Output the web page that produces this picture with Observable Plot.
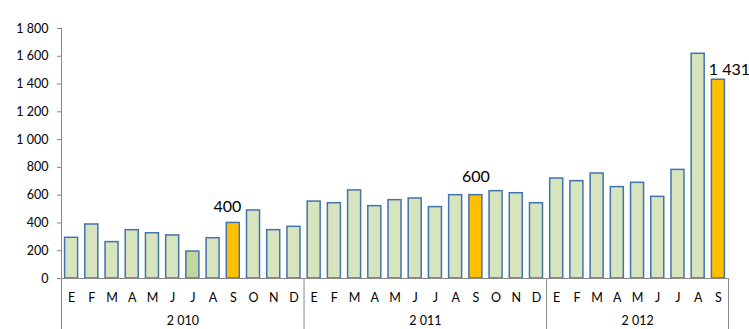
<!DOCTYPE html>
<html><head><meta charset="utf-8">
<script src="https://cdn.jsdelivr.net/npm/d3@7"></script>
<script src="https://cdn.jsdelivr.net/npm/@observablehq/plot@0.6"></script>
<style>html,body{margin:0;padding:0;overflow:hidden;background:#fff}</style>
</head><body><div id="chart"></div>
<script>
const months = ["E","F","M","A","M","J","J","A","S","O","N","D",
                "E","F","M","A","M","J","J","A","S","O","N","D",
                "E","F","M","A","M","J","J","A","S"];
const values = [293,389,262,348,326,310,194,290,400,490,348,372,
                554,542,634,521,564,576,514,600,600,629,614,542,
                720,701,756,658,689,588,782,1618,1431];
const years = ["2 010","2 011","2 012"];
const yearStarts = [0,12,24];
const yearEnds = [12,24,33];
const highlighted = [8,20,32];
const highlightLabels = ["400","600","1 431"];
const darker = [6];
const yTicks = [0,200,400,600,800,1000,1200,1400,1600,1800];

const data = values.map((v,i)=>({i, v, m: months[i],
  kind: highlighted.includes(i) ? "hi" : darker.includes(i) ? "dark" : "base"}));
const fills = {base:"#D7E4BD", dark:"#C3D69B", hi:"#FFC000"};
const fmt = d => d3.format(",")(d).replace(/,/g," ");
const lab = k => [{i: highlighted[k], v: values[highlighted[k]], t: highlightLabels[k]}];

const plot = Plot.plot({
  width: 749, height: 329,
  marginTop: 28, marginBottom: 51, marginLeft: 61, marginRight: 21,
  style: {fontFamily: "Lato, sans-serif", fontSize: "12.5px", color: "#000", background: "#fff"},
  x: {type: "linear", domain: [0, 33], axis: null},
  y: {domain: [0, 1800], axis: null},
  color: {type: "identity"},
  marks: [
    Plot.rectY(data, {x1: "i", x2: d => d.i + 1, y1: 0, y2: "v", insetLeft: 3.6, insetRight: 3.6,
      fill: d => fills[d.kind], stroke: "#4373AE", strokeWidth: 1.5}),
    Plot.ruleY([0], {x1: 0, x2: 33, stroke: "#888"}),
    Plot.ruleX([0], {y1: 1800, y2: -370, stroke: "#888"}),
    Plot.ruleX(yearEnds, {y1: 0, y2: -370, stroke: "#888"}),
    Plot.axisY({ticks: yTicks, tickFormat: fmt, tickSize: 4, tickPadding: 9, stroke: "#888", fontSize: 12.5, label: null}),
    Plot.text(data, {x: d => d.i + 0.5, y: 0, text: "m", dy: 19, fontSize: 12.5}),
    Plot.text(years, {x: (d, k) => (yearStarts[k] + yearEnds[k]) / 2, y: 0, text: d => d, dy: 42, fontSize: 12.5}),
    Plot.text(lab(0), {x: d => d.i + 0.5, y: "v", text: "t", dx: -6, dy: -16, fontSize: 16}),
    Plot.text(lab(1), {x: d => d.i + 0.5, y: "v", text: "t", dx: 0, dy: -18, fontSize: 16}),
    Plot.text(lab(2), {x: d => d.i + 0.5, y: "v", text: "t", dx: 11, dy: -10, fontSize: 16})
  ]
});
document.getElementById("chart").appendChild(plot);
</script>
</body></html>
